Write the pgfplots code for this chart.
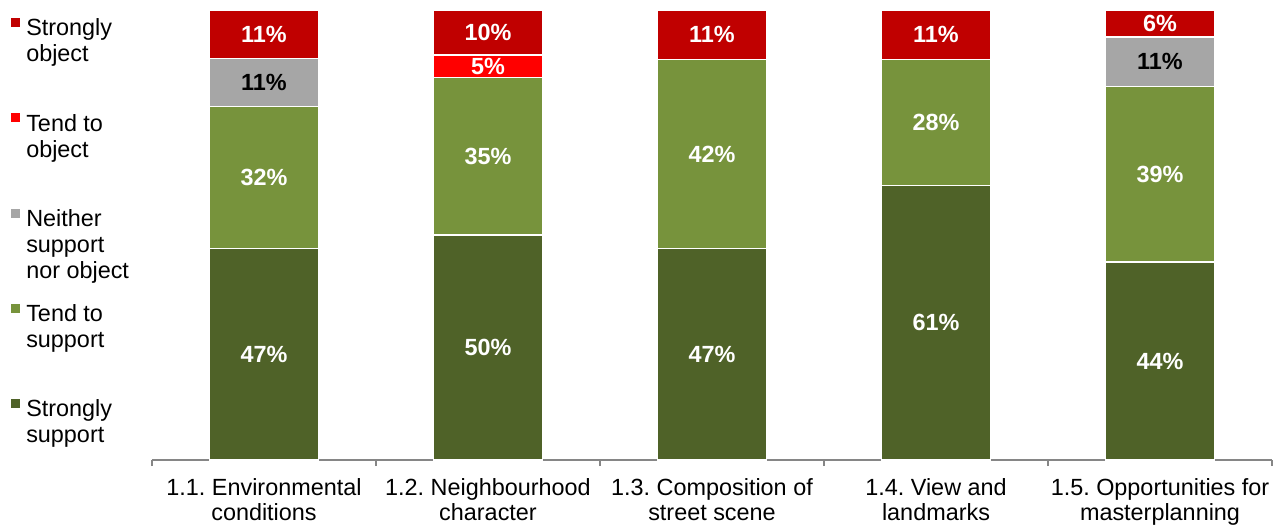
\documentclass[border=0pt]{standalone}
\usepackage{pgfplots}
\pgfplotsset{compat=1.18}
\usepackage{pgfplotstable}
\usepackage{fontspec}
\setmainfont{Liberation Sans}
\frenchspacing
\definecolor{sobj}{HTML}{C00000}
\definecolor{tobj}{HTML}{FF0000}
\definecolor{neit}{HTML}{A6A6A6}
\definecolor{tsup}{HTML}{77933C}
\definecolor{ssup}{HTML}{4F6228}
\definecolor{axgray}{HTML}{868686}
\newcommand\legtxt[1]{\begin{tabular}[t]{@{}l@{}}#1\end{tabular}}

\pgfplotstableread{
x ss ts nn to so
0 47 31.6 10.7 0 10.7
1 50 35 0 5 10
2 47 42 0 0 11
3 61 28 0 0 11
4 44 39 11 0 6
}\data

\begin{document}
\begin{tikzpicture}
\begin{axis}[
  scale only axis, width=560pt, height=225pt,
  ybar stacked, bar width=54.5pt,
  xmin=-0.5, xmax=4.5, ymin=0, ymax=100,
  axis x line=bottom, axis y line=none,
  x axis line style={draw=axgray, line width=0.6pt, -},
  xtick={-0.5,0.5,1.5,2.5,3.5,4.5},
  x tick label as interval,
  xticklabels={{1.1. Environmental\\conditions},{1.2. Neighbourhood\\character},{1.3. Composition of\\street scene},{1.4. View and\\landmarks},{1.5. Opportunities for\\masterplanning}},
  tick align=outside, major tick length=3pt,
  xtick style={draw=axgray, line width=0.6pt},
  xticklabel style={font=\fontsize{11.7}{12.6}\selectfont\frenchspacing, align=center, text=black, yshift=-2.5pt},
  /pgf/number format/assume math mode=true,
  legend style={at={(axis description cs:-0.126,0.984)}, anchor=north west, draw=none, fill=none, inner sep=0pt, row sep=37pt, column sep=3pt, nodes={inner sep=0pt, font=\fontsize{11.7}{13}\selectfont}},
  legend cell align=left,
  legend image code/.code={\fill[#1,draw=none] (0pt,0.5pt) rectangle (4.5pt,5pt);},
  reverse legend,
  bars/.style={draw=white, line width=0.6pt, point meta=explicit,
    nodes near coords={\pgfmathfloatifflags{\pgfplotspointmeta}{0}{}{\pgfmathprintnumber[fixed,precision=0]{\pgfplotspointmeta}\%}},
    every node near coord/.append style={text=white, font=\fontsize{11.7}{13}\selectfont\bfseries}},
]
\addplot[bars, fill=ssup] table[x=x,y=ss,meta=ss]{\data};
\addlegendentry{\legtxt{Strongly\\support}}
\addplot[bars, fill=tsup] table[x=x,y=ts,meta=ts]{\data};
\addlegendentry{\legtxt{Tend to\\support}}
\addplot[bars, fill=neit, every node near coord/.append style={text=black}] table[x=x,y=nn,meta=nn]{\data};
\addlegendentry{\legtxt{Neither\\support\\nor object}}
\addplot[bars, fill=tobj] table[x=x,y=to,meta=to]{\data};
\addlegendentry{\legtxt{Tend to\\object}}
\addplot[bars, fill=sobj] table[x=x,y=so,meta=so]{\data};
\addlegendentry{\legtxt{Strongly\\object}}
\end{axis}
\path ([shift={(-76pt,-32pt)}]current axis.south west) rectangle ([shift={(8pt,5pt)}]current axis.north east);
\end{tikzpicture}
\end{document}
